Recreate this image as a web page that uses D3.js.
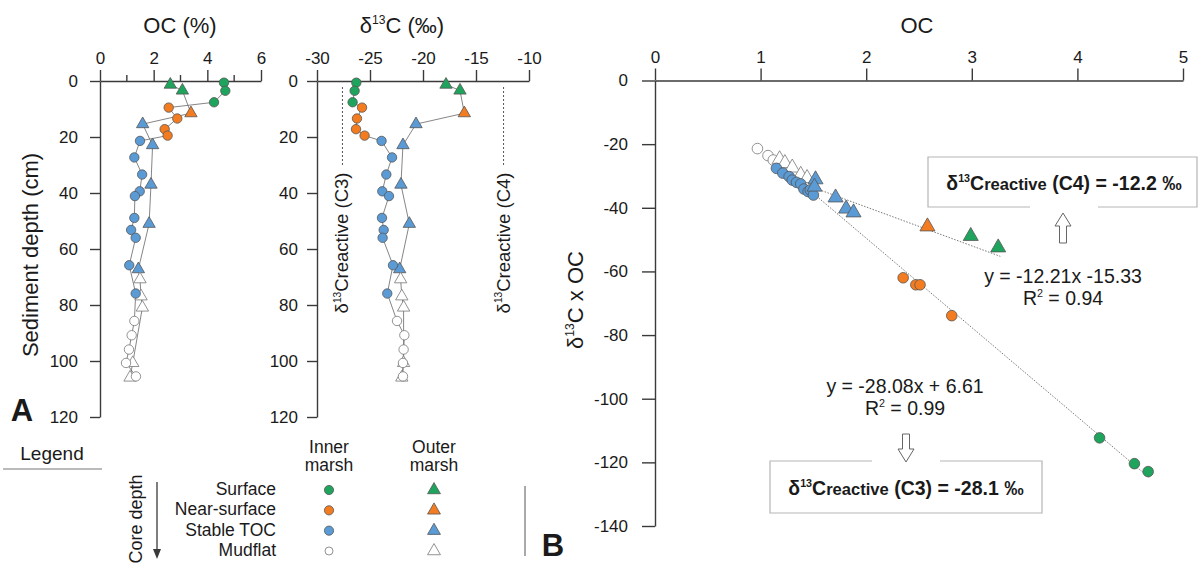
<!DOCTYPE html>
<html><head><meta charset="utf-8">
<script src="https://cdn.jsdelivr.net/npm/d3@7"></script>
<style>
html,body{margin:0;padding:0;background:#fff;}
svg{display:block;font-family:"Liberation Sans",Arial,sans-serif;}
</style></head>
<body>
<svg id="chart" width="1198" height="565"></svg>
<script>
// ---------------- DATA ----------------
// Panel A: inner marsh (circles)
const inSurfDepth = [0.6, 3.5, 7.6];
const inSurfOC    = [4.62, 4.67, 4.25];
const inSurfD13C  = [-26.29, -26.45, -26.64];
const inNearDepth = [9.5, 13.4, 17.2, 19.5];
const inNearOC    = [2.56, 2.88, 2.41, 2.52];
const inNearD13C  = [-25.75, -26.23, -26.32, -25.51];
const inStabDepth = [21.4, 27.3, 33.4, 39.4, 41.1, 48.9, 53.2, 56.0, 65.8, 75.9];
const inStabOC    = [1.49, 1.28, 1.57, 1.48, 1.30, 1.28, 1.16, 1.33, 1.09, 1.33];
const inStabD13C  = [-23.91, -22.92, -23.46, -23.84, -23.21, -23.87, -23.71, -23.81, -22.83, -23.37];
const inMudDepth  = [85.7, 90.8, 95.9, 100.7, 105.5];
const inMudOC     = [1.28, 1.18, 1.08, 0.97, 1.34];
const inMudD13C   = [-22.45, -21.76, -21.83, -21.89, -21.89];
// Panel A: outer marsh (triangles)
const outSurfDepth = [1.3, 3.4];
const outSurfOC    = [2.62, 3.07];
const outSurfD13C  = [-17.83, -16.51];
const outNearDepth = [11.5];
const outNearOC    = [3.39];
const outNearD13C  = [-16.10];
const outStabDepth = [15.4, 22.9, 37.0, 51.0, 67.2];
const outStabOC    = [1.59, 1.96, 1.90, 1.83, 1.43];
const outStabD13C  = [-20.66, -21.89, -22.08, -21.29, -22.20];
const outMudDepth  = [70.8, 76.9, 80.9, 100.7, 105.9];
const outMudOC     = [1.49, 1.53, 1.58, 1.22, 1.12];
const outMudD13C   = [-22.11, -22.00, -21.83, -21.83, -22.00];
// reference end-member lines
const refC3 = -27.6, refC4 = -12.4;

// Panel B: OC vs d13C x OC
const bInSurfOC  = [4.21, 4.54, 4.67];
const bInSurfY   = [-112.3, -120.4, -122.9];
const bInNearOC  = [2.35, 2.47, 2.51, 2.81];
const bInNearY   = [-62.0, -64.2, -64.2, -73.9];
const bInStabOC  = [1.15, 1.21, 1.27, 1.30, 1.34, 1.38, 1.41, 1.45, 1.47, 1.50];
const bInStabY   = [-27.6, -29.1, -30.2, -31.3, -32.0, -32.5, -34.1, -34.9, -34.4, -36.0];
const bInMudOC   = [0.97, 1.07, 1.12, 1.25, 1.31];
const bInMudY    = [-21.4, -23.6, -25.0, -27.8, -29.0];
const bOutSurfOC = [2.99, 3.25];
const bOutSurfY  = [-48.9, -52.5];
const bOutNearOC = [2.58];
const bOutNearY  = [-45.9];
const bOutStabOC = [1.52, 1.51, 1.71, 1.81, 1.88];
const bOutStabY  = [-31.1, -33.4, -36.8, -40.3, -41.5];
const bOutMudOC  = [1.18, 1.23, 1.30, 1.38, 1.44];
const bOutMudY   = [-24.8, -26.0, -27.4, -29.7, -30.7];
// regressions
const regC4 = {slope: -12.21, intercept: -15.33, x0: 1.50, x1: 3.27};
const regC3 = {slope: -28.08, intercept: 6.61, x0: 1.42, x1: 4.68};

// axis ticks
const ocTicks = [0, 2, 4, 6];
const ocMinor = [1, 3, 5];
const d13Ticks = [-30, -25, -20, -15, -10];
const depthTicks = [0, 20, 40, 60, 80, 100, 120];
const bXTicks = [0, 1, 2, 3, 4, 5];
const bYTicks = [0, -20, -40, -60, -80, -100, -120, -140];

const legendRows = ["Surface", "Near-surface", "Stable TOC", "Mudflat"];

// ---------------- STYLE ----------------
const COL = {surf: "#1ea45c", near: "#f47c20", stab: "#5b9bd5", mud: "#ffffff"};
const AX = "#3a3a3a";
const TXT = "#1a1a1a";
const TICKFS = 17;

const svg = d3.select("#chart");

function styleAxis(g) {
  g.selectAll("path.domain").attr("stroke", AX).attr("stroke-width", 1.4);
  g.selectAll(".tick line").attr("stroke", AX).attr("stroke-width", 1.4);
  g.selectAll(".tick text").attr("fill", TXT).attr("font-size", TICKFS)
    .attr("font-family", "Liberation Sans, Arial, sans-serif");
}

function zipPts(xs, ys, col, shape) {
  return xs.map((x, i) => ({x: x, y: ys[i], col: col, shape: shape}));
}

function markerStroke(col) { return col === COL.mud ? "#777" : "#555"; }

function drawMarkers(g, pts, xs, ys, rCirc, triSize) {
  pts.forEach(p => {
    if (p.shape === "c") {
      g.append("circle").attr("cx", xs(p.x)).attr("cy", ys(p.y)).attr("r", rCirc)
        .attr("fill", p.col).attr("stroke", markerStroke(p.col)).attr("stroke-width", 0.8);
    } else {
      g.append("path").attr("d", d3.symbol().type(d3.symbolTriangle).size(triSize)())
        .attr("transform", `translate(${xs(p.x)},${ys(p.y)})`)
        .attr("fill", p.col).attr("stroke", markerStroke(p.col)).attr("stroke-width", 0.8);
    }
  });
}

// superscript text helper: parts = [[text, 'n'|'s'|'r'], ...]
function richText(sel, parts, size) {
  parts.forEach(([t, k], i) => {
    const prev = i > 0 ? parts[i - 1][1] : null;
    let dy = 0;
    if (k === "s") dy = -size * 0.42;
    else if (prev === "s") dy = size * 0.42;
    sel.append("tspan")
      .attr("font-size", k === "s" ? size * 0.55 : (k === "r" ? size * 0.85 : size))
      .attr("dy", dy).text(t);
  });
}

// ---------------- PANEL A ----------------
const yDepth = d3.scaleLinear().domain([0, 120]).range([81, 417]);
const xOC = d3.scaleLinear().domain([0, 6]).range([100, 261]);
const xD13 = d3.scaleLinear().domain([-30, -10]).range([317, 529]);

// OC axes
const gOCx = svg.append("g").attr("transform", "translate(0,81)")
  .call(d3.axisTop(xOC).tickValues(ocTicks).tickSize(11).tickPadding(6).tickSizeOuter(0).tickFormat(d3.format("d")));
styleAxis(gOCx);
svg.append("g").selectAll("line").data(ocMinor).join("line")
  .attr("x1", d => xOC(d)).attr("x2", d => xOC(d)).attr("y1", 81).attr("y2", 75)
  .attr("stroke", AX).attr("stroke-width", 1.4);
const gOCy = svg.append("g").attr("transform", "translate(100,0)")
  .call(d3.axisLeft(yDepth).tickValues(depthTicks).tickSize(10).tickPadding(12).tickSizeOuter(0));
styleAxis(gOCy);

// d13C axes
const gDx = svg.append("g").attr("transform", "translate(0,81)")
  .call(d3.axisTop(xD13).tickValues(d13Ticks).tickSize(11).tickPadding(6).tickSizeOuter(0).tickFormat(d3.format("d")));
styleAxis(gDx);
gDx.selectAll(".tick text").text(d => d < 0 ? "-" + Math.abs(d) : d);
const gDy = svg.append("g").attr("transform", `translate(${xD13(-30)},0)`)
  .call(d3.axisLeft(yDepth).tickValues(depthTicks).tickSize(10).tickPadding(9).tickSizeOuter(0));
styleAxis(gDy);

// titles
svg.append("text").attr("x", 180).attr("y", 33).attr("text-anchor", "middle")
  .attr("font-size", 22).attr("fill", TXT).text("OC (%)");
richText(svg.append("text").attr("x", 402).attr("y", 33).attr("text-anchor", "middle").attr("fill", TXT),
  [["δ", "n"], ["13", "s"], ["C (‰)", "n"]], 22);
svg.append("text").attr("transform", "translate(38,255) rotate(-90)").attr("text-anchor", "middle")
  .attr("font-size", 22).attr("fill", TXT).text("Sediment depth (cm)");
svg.append("text").attr("x", 22).attr("y", 421).attr("text-anchor", "middle")
  .attr("font-size", 31).attr("font-weight", "bold").attr("fill", TXT).text("A");

// reference dotted lines
[refC3, refC4].forEach((v, i) => {
  svg.append("line").attr("x1", xD13(v)).attr("x2", xD13(v)).attr("y1", 87).attr("y2", 166)
    .attr("stroke", "#555").attr("stroke-width", 1).attr("stroke-dasharray", "2,2");
  const t = svg.append("text")
    .attr("transform", `translate(${xD13(v) + 6},243) rotate(-90)`)
    .attr("text-anchor", "middle").attr("fill", TXT);
  richText(t, [["δ", "n"], ["13", "s"], ["Creactive (" + (i === 0 ? "C3" : "C4") + ")", "n"]], 18.5);
});

// profile series
const mkSeries = (depths, oc, d13, col) => depths.map((d, i) => ({d: d, oc: oc[i], c: d13[i], col: col}));
const inner = [].concat(
  mkSeries(inSurfDepth, inSurfOC, inSurfD13C, COL.surf),
  mkSeries(inNearDepth, inNearOC, inNearD13C, COL.near),
  mkSeries(inStabDepth, inStabOC, inStabD13C, COL.stab),
  mkSeries(inMudDepth, inMudOC, inMudD13C, COL.mud));
const outer = [].concat(
  mkSeries(outSurfDepth, outSurfOC, outSurfD13C, COL.surf),
  mkSeries(outNearDepth, outNearOC, outNearD13C, COL.near),
  mkSeries(outStabDepth, outStabOC, outStabD13C, COL.stab),
  mkSeries(outMudDepth, outMudOC, outMudD13C, COL.mud));

function drawProfile(xs, key) {
  const g = svg.append("g");
  [inner, outer].forEach(ser => {
    g.append("path").datum(ser)
      .attr("d", d3.line().x(p => xs(p[key])).y(p => yDepth(p.d)))
      .attr("fill", "none").attr("stroke", "#777").attr("stroke-width", 0.9);
  });
  drawMarkers(g, outer.map(p => ({x: p[key], y: p.d, col: p.col, shape: "t"})), xs, yDepth, 4.7, 66);
  drawMarkers(g, inner.map(p => ({x: p[key], y: p.d, col: p.col, shape: "c"})), xs, yDepth, 4.7, 66);
}
drawProfile(xOC, "oc");
drawProfile(xD13, "c");

// ---------------- LEGEND ----------------
svg.append("text").attr("x", 52).attr("y", 460).attr("text-anchor", "middle")
  .attr("font-size", 19).attr("fill", TXT).text("Legend");
svg.append("line").attr("x1", 3).attr("x2", 102).attr("y1", 469).attr("y2", 469)
  .attr("stroke", "#777").attr("stroke-width", 1);
[["Inner", "marsh", 329], ["Outer", "marsh", 434]].forEach(([a, b, x]) => {
  svg.append("text").attr("x", x).attr("y", 453).attr("text-anchor", "middle").attr("font-size", 17.5).attr("fill", TXT).text(a);
  svg.append("text").attr("x", x).attr("y", 471).attr("text-anchor", "middle").attr("font-size", 17.5).attr("fill", TXT).text(b);
});
const rowY = d3.scalePoint().domain(legendRows).range([489, 550]);
const rowCol = [COL.surf, COL.near, COL.stab, COL.mud];
legendRows.forEach((r, i) => {
  svg.append("text").attr("x", 276).attr("y", rowY(r) + 6).attr("text-anchor", "end")
    .attr("font-size", 17.5).attr("fill", TXT).text(r);
  svg.append("circle").attr("cx", 329).attr("cy", rowY(r) + 1).attr("r", i === 3 ? 4 : 4.6)
    .attr("fill", rowCol[i]).attr("stroke", markerStroke(rowCol[i])).attr("stroke-width", 0.8);
  svg.append("path").attr("d", d3.symbol().type(d3.symbolTriangle).size(72)())
    .attr("transform", `translate(434,${rowY(r) + 1})`)
    .attr("fill", rowCol[i]).attr("stroke", markerStroke(rowCol[i])).attr("stroke-width", 0.8);
});
svg.append("text").attr("transform", "translate(142,519) rotate(-90)").attr("text-anchor", "middle")
  .attr("font-size", 18).attr("fill", TXT).text("Core depth");
svg.append("line").attr("x1", 157).attr("x2", 157).attr("y1", 482).attr("y2", 552)
  .attr("stroke", AX).attr("stroke-width", 1.3);
svg.append("path").attr("d", "M153,549 L161,549 L157,559 Z").attr("fill", AX);
svg.append("line").attr("x1", 525).attr("x2", 525).attr("y1", 486).attr("y2", 556)
  .attr("stroke", "#555").attr("stroke-width", 1);

// ---------------- PANEL B ----------------
const xB = d3.scaleLinear().domain([0, 5]).range([655, 1183]);
const yB = d3.scaleLinear().domain([0, -140]).range([80.5, 526]);

const gBx = svg.append("g").attr("transform", "translate(0,80.5)")
  .call(d3.axisTop(xB).tickValues(bXTicks).tickSize(12).tickPadding(6).tickSizeOuter(0).tickFormat(d3.format("d")));
styleAxis(gBx);
const gBy = svg.append("g").attr("transform", "translate(655,0)")
  .call(d3.axisLeft(yB).tickValues(bYTicks).tickSize(13).tickPadding(14).tickSizeOuter(0));
styleAxis(gBy);
gBy.selectAll(".tick text").text(d => d < 0 ? "-" + Math.abs(d) : d);

svg.append("text").attr("x", 917).attr("y", 33).attr("text-anchor", "middle")
  .attr("font-size", 22).attr("fill", TXT).text("OC");
richText(svg.append("text").attr("transform", "translate(583,300) rotate(-90)").attr("text-anchor", "middle").attr("fill", TXT),
  [["δ", "n"], ["13", "s"], ["C x OC", "n"]], 22);
svg.append("text").attr("x", 553).attr("y", 556).attr("text-anchor", "middle")
  .attr("font-size", 31).attr("font-weight", "bold").attr("fill", TXT).text("B");

// regression lines
[regC4, regC3].forEach(r => {
  svg.append("line")
    .attr("x1", xB(r.x0)).attr("y1", yB(r.slope * r.x0 + r.intercept))
    .attr("x2", xB(r.x1)).attr("y2", yB(r.slope * r.x1 + r.intercept))
    .attr("stroke", "#777").attr("stroke-width", 1).attr("stroke-dasharray", "1.5,1.5");
});

const gB = svg.append("g");
drawMarkers(gB, [].concat(
  zipPts(bInMudOC, bInMudY, COL.mud, "c"),
  zipPts(bOutMudOC, bOutMudY, COL.mud, "t"),
  zipPts(bInStabOC, bInStabY, COL.stab, "c"),
  zipPts(bOutStabOC, bOutStabY, COL.stab, "t"),
  zipPts(bInNearOC, bInNearY, COL.near, "c"),
  zipPts(bOutNearOC, bOutNearY, COL.near, "t"),
  zipPts(bInSurfOC, bInSurfY, COL.surf, "c"),
  zipPts(bOutSurfOC, bOutSurfY, COL.surf, "t")), xB, yB, 5.3, 98);

// annotation boxes
const boxStroke = "#b5b5b5";
// C4 box (gap on bottom edge)
svg.append("path").attr("d", "M1030,207 L928,207 L928,157 L1197,157 L1197,207 L1098,207")
  .attr("fill", "none").attr("stroke", boxStroke).attr("stroke-width", 1.2);
richText(svg.append("text").attr("x", 1064).attr("y", 190).attr("text-anchor", "middle")
  .attr("font-weight", "bold").attr("fill", TXT),
  [["δ", "n"], ["13", "s"], ["C", "n"], ["reactive", "r"], [" (C4) = -12.2 ‰", "n"]], 19.5);
// up arrow
(function(cx, ty, by) {
  svg.append("path").attr("d", `M${cx},${ty} L${cx + 8},${ty + 13} L${cx + 3.5},${ty + 13} L${cx + 3.5},${by} L${cx - 3.5},${by} L${cx - 3.5},${ty + 13} L${cx - 8},${ty + 13} Z`)
    .attr("fill", "#fff").attr("stroke", "#666").attr("stroke-width", 1);
})(1063, 213, 243);
richText(svg.append("text").attr("x", 1063).attr("y", 283).attr("text-anchor", "middle").attr("fill", TXT),
  [["y = -12.21x -15.33", "n"]], 19.5);
richText(svg.append("text").attr("x", 1063).attr("y", 305).attr("text-anchor", "middle").attr("fill", TXT),
  [["R", "n"], ["2", "s"], [" = 0.94", "n"]], 19.5);

richText(svg.append("text").attr("x", 905).attr("y", 393).attr("text-anchor", "middle").attr("fill", TXT),
  [["y = -28.08x + 6.61", "n"]], 19.5);
richText(svg.append("text").attr("x", 905).attr("y", 415).attr("text-anchor", "middle").attr("fill", TXT),
  [["R", "n"], ["2", "s"], [" = 0.99", "n"]], 19.5);
// down arrow
(function(cx, ty, by) {
  svg.append("path").attr("d", `M${cx},${by} L${cx + 8},${by - 13} L${cx + 3.5},${by - 13} L${cx + 3.5},${ty} L${cx - 3.5},${ty} L${cx - 3.5},${by - 13} L${cx - 8},${by - 13} Z`)
    .attr("fill", "#fff").attr("stroke", "#666").attr("stroke-width", 1);
})(906, 434, 462);
// C3 box (gap on top edge)
svg.append("path").attr("d", "M872,461 L770,461 L770,513 L1042,513 L1042,461 L940,461")
  .attr("fill", "none").attr("stroke", boxStroke).attr("stroke-width", 1.2);
richText(svg.append("text").attr("x", 906).attr("y", 495).attr("text-anchor", "middle")
  .attr("font-weight", "bold").attr("fill", TXT),
  [["δ", "n"], ["13", "s"], ["C", "n"], ["reactive", "r"], [" (C3) = -28.1 ‰", "n"]], 19.5);
</script>
</body></html>
